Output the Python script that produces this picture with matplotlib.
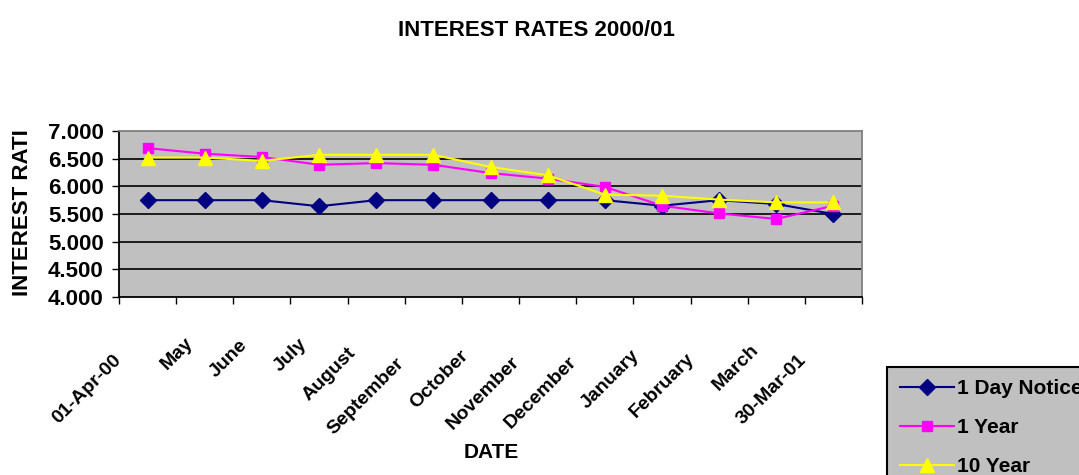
import matplotlib
matplotlib.use("Agg")
import matplotlib.pyplot as plt
from matplotlib.transforms import ScaledTranslation
import numpy as np

plt.rcParams["font.family"] = ["Liberation Sans", "DejaVu Sans"]

# Monthly interest rates, April 2000 to March 2001
dates = ["01-Apr-00", "May", "June", "July", "August", "September", "October",
         "November", "December", "January", "February", "March", "30-Mar-01"]
one_day_notice = [5.75, 5.75, 5.75, 5.64, 5.75, 5.75, 5.75, 5.75, 5.75, 5.65, 5.75, 5.68, 5.50]
one_year = [6.69, 6.59, 6.53, 6.39, 6.42, 6.39, 6.24, 6.14, 5.99, 5.65, 5.51, 5.41, 5.65]
ten_year = [6.52, 6.52, 6.46, 6.57, 6.57, 6.57, 6.35, 6.20, 5.85, 5.83, 5.76, 5.71, 5.71]
y_ticks = [4.0, 4.5, 5.0, 5.5, 6.0, 6.5, 7.0]

W, H, DPI = 1079, 475, 100
fig = plt.figure(figsize=(W / DPI, H / DPI), dpi=DPI)
fig.patch.set_facecolor("white")

left, right, top, bottom = 119, 862, 131, 297
ax = fig.add_axes([left / W, 1 - bottom / H, (right - left) / W, (bottom - top) / H])
ax.set_facecolor("#C0C0C0")

x = np.arange(len(dates))
ax.plot(x, one_day_notice, color="#000080", lw=1.5, marker="D", ms=8.5,
        mfc="#000080", mec="#000080", label="1 Day Notice", zorder=3)
ax.plot(x, one_year, color="#FF00FF", lw=1.5, marker="s", ms=7.5,
        mfc="#FF00FF", mec="#FF00FF", label="1 Year", zorder=4)
ax.plot(x, ten_year, color="#FFFF00", lw=1.5, marker="^", ms=10,
        mfc="#FFFF00", mec="#FFFF00", label="10 Year", zorder=5)

ax.set_xlim(-0.5, len(dates) - 0.5)
ax.set_ylim(4.0, 7.0)
ax.set_yticks(y_ticks)
ax.set_yticklabels([f"{v:.3f}" for v in y_ticks], fontsize=16, fontweight="bold")
ax.set_xticks(np.arange(-0.5, len(dates), 1.0))
ax.set_xticklabels([])
ax.tick_params(axis="both", direction="out", length=5, width=1, color="black")
ax.tick_params(axis="y", pad=6)

for yv in y_ticks[1:-1]:
    ax.axhline(yv, color="black", lw=1.2, zorder=1)

ax.spines["left"].set_color("black")
ax.spines["bottom"].set_color("black")
ax.spines["top"].set_color("#808080")
ax.spines["right"].set_color("#808080")
for s in ax.spines.values():
    s.set_linewidth(1.3)

# Title and axis titles
fig.text(536 / W, 1 - 31 / H, "INTEREST RATES 2000/01", ha="center", va="center",
         fontsize=16, fontweight="bold")
fig.text(23 / W, 1 - 213 / H, "INTEREST RATI", ha="center", va="center",
         rotation=90, fontsize=16, fontweight="bold")
fig.text(491 / W, 1 - 452 / H, "DATE", ha="center", va="center",
         fontsize=15, fontweight="bold")

# Rotated category labels; longer labels sit further down-left of their slot
fig.canvas.draw()
renderer = fig.canvas.get_renderer()
label_family = ["Liberation Sans Narrow", "Liberation Sans", "DejaVu Sans"]
label_size = 14
for i, lab in enumerate(dates):
    probe = fig.text(0, 0, lab, fontsize=label_size, fontweight="bold", family=label_family)
    L = probe.get_window_extent(renderer).width
    probe.remove()
    dx = -(4 + 0.28 * L)
    dy = 31 + 0.33 * L
    tr = ax.get_xaxis_transform() + ScaledTranslation(dx / DPI, -dy / DPI, fig.dpi_scale_trans)
    ax.text(i, 0, lab, transform=tr, rotation=45, ha="right", va="center",
            rotation_mode="anchor", fontsize=label_size, fontweight="bold",
            family=label_family, clip_on=False)

leg = fig.legend(loc="upper left", bbox_to_anchor=(887 / W, 1 - 367 / H),
                 bbox_transform=fig.transFigure, borderaxespad=0, frameon=True,
                 fancybox=False, edgecolor="black", facecolor="#C0C0C0", framealpha=1,
                 prop={"size": 15, "weight": "bold"}, handlelength=2.6,
                 handletextpad=0.15, borderpad=0.6, labelspacing=0.95)
leg.get_frame().set_linewidth(1.5)

fig.savefig("out.png", dpi=DPI)
